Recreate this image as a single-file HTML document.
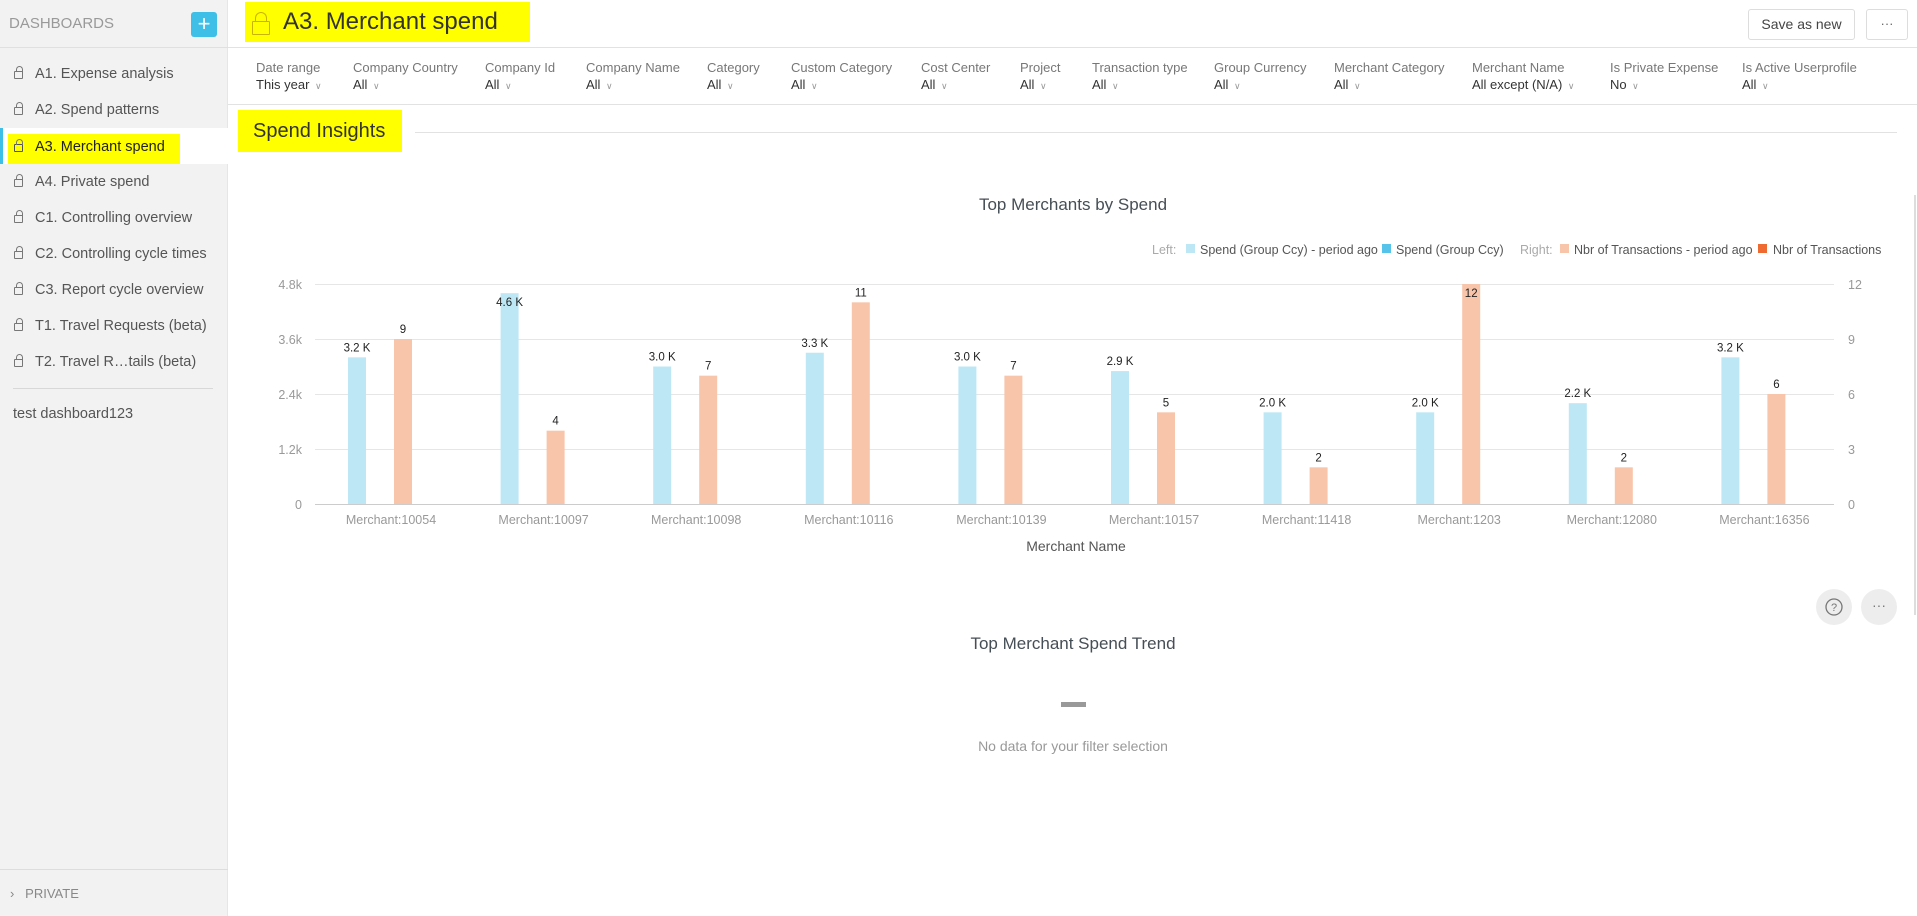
<!DOCTYPE html>
<html><head><meta charset="utf-8"><style>
*{box-sizing:border-box;margin:0;padding:0}
body{width:1917px;height:916px;overflow:hidden;font-family:"Liberation Sans",sans-serif;background:#fff;position:relative;color:#464e56}
.abs{position:absolute;white-space:nowrap}
#side{position:absolute;left:0;top:0;width:228px;height:916px;background:#f2f2f2;border-right:1px solid #e6e6e6}
.item{position:absolute;left:14px;font-size:14.5px;color:#555}
.lock{display:inline-block;width:9px;height:8px;border:1.3px solid #777;border-radius:1px;margin-right:12px;position:relative;vertical-align:-1px}
.lock:before{content:"";position:absolute;left:0.5px;top:-6px;width:5px;height:5px;border:1.3px solid #777;border-bottom:none;border-radius:4px 4px 0 0}
.fl{position:absolute;top:60px;font-size:13px;color:#777}
.fl b{display:block;font-weight:normal;color:#333;font-size:13px;margin-top:2px}
.fl b:after{content:" \2228";font-size:9px;color:#999;margin-left:3px}
</style></head><body>
<div id="side">
 <div class="abs" style="left:9px;top:15px;font-size:15px;color:#999">DASHBOARDS</div>
 <div class="abs" style="left:191px;top:12px;width:26px;height:25px;background:#3dbfe8;border-radius:3px;color:#fff;font-size:22px;line-height:23px;text-align:center">+</div>
 <div class="abs" style="left:0;top:47px;width:228px;height:1px;background:#e0e0e0"></div>
 <div class="item" style="top:66px"><span class="lock"></span>A1. Expense analysis</div>
 <div class="item" style="top:102px"><span class="lock"></span>A2. Spend patterns</div>
 <div class="abs" style="left:0;top:128px;width:228px;height:36px;background:#fff"></div>
 <div class="abs" style="left:0;top:128px;width:3px;height:36px;background:#3dbfe8"></div>
 <div class="abs" style="left:8px;top:134px;width:172px;height:30px;background:#ffff00"></div>
 <div class="item" style="top:139px;color:#222"><span class="lock" style="border-color:#555"></span>A3. Merchant spend</div>
 <div class="item" style="top:174px"><span class="lock"></span>A4. Private spend</div>
 <div class="item" style="top:210px"><span class="lock"></span>C1. Controlling overview</div>
 <div class="item" style="top:246px"><span class="lock"></span>C2. Controlling cycle times</div>
 <div class="item" style="top:282px"><span class="lock"></span>C3. Report cycle overview</div>
 <div class="item" style="top:318px"><span class="lock"></span>T1. Travel Requests (beta)</div>
 <div class="item" style="top:354px"><span class="lock"></span>T2. Travel R…tails (beta)</div>
 <div class="abs" style="left:13px;top:388px;width:200px;height:1px;background:#d8d8d8"></div>
 <div class="item" style="top:406px;left:13px">test dashboard123</div>
 <div class="abs" style="left:0;top:869px;width:228px;height:1px;background:#ddd"></div>
 <div class="abs" style="left:10px;top:886px;font-size:13px;color:#888">›&nbsp;&nbsp; PRIVATE</div>
</div>
<div class="abs" style="left:245px;top:2px;width:285px;height:40px;background:#ffff00"></div>
<div class="abs" style="left:255px;top:12px;width:12px;height:10px;border:1.5px solid #c8b400;border-bottom:none;border-radius:6px 6px 0 0"></div>
<div class="abs" style="left:252px;top:21px;width:18px;height:14px;border:1.5px solid #c8b400;border-radius:1px"></div>
<div class="abs" style="left:283px;top:8px;font-size:24px;color:#333">A3. Merchant spend</div>
<div class="abs" style="left:1748px;top:9px;width:107px;height:31px;border:1px solid #ddd;border-radius:3px;font-size:14px;color:#444;text-align:center;line-height:29px">Save as new</div>
<div class="abs" style="left:1866px;top:9px;width:42px;height:31px;border:1px solid #ddd;border-radius:3px;font-size:13px;color:#666;text-align:center;line-height:27px">···</div>
<div class="abs" style="left:228px;top:47px;width:1689px;height:1px;background:#e2e2e2"></div>
<div class="fl" style="left:256px">Date range<b>This year</b></div>
<div class="fl" style="left:353px">Company Country<b>All</b></div>
<div class="fl" style="left:485px">Company Id<b>All</b></div>
<div class="fl" style="left:586px">Company Name<b>All</b></div>
<div class="fl" style="left:707px">Category<b>All</b></div>
<div class="fl" style="left:791px">Custom Category<b>All</b></div>
<div class="fl" style="left:921px">Cost Center<b>All</b></div>
<div class="fl" style="left:1020px">Project<b>All</b></div>
<div class="fl" style="left:1092px">Transaction type<b>All</b></div>
<div class="fl" style="left:1214px">Group Currency<b>All</b></div>
<div class="fl" style="left:1334px">Merchant Category<b>All</b></div>
<div class="fl" style="left:1472px">Merchant Name<b>All except (N/A)</b></div>
<div class="fl" style="left:1610px">Is Private Expense<b>No</b></div>
<div class="fl" style="left:1742px">Is Active Userprofile<b>All</b></div>
<div class="abs" style="left:228px;top:104px;width:1689px;height:1px;background:#e2e2e2"></div>
<div class="abs" style="left:238px;top:110px;width:164px;height:42px;background:#ffff00"></div>
<div class="abs" style="left:253px;top:120px;font-size:20px;color:#333">Spend Insights</div>
<div class="abs" style="left:415px;top:132px;width:1482px;height:1px;background:#e2e2e2"></div>
<div class="abs" style="left:1914px;top:195px;width:2px;height:420px;background:#ddd"></div>

<svg class="abs" style="left:0;top:0" width="1917" height="916" font-family="Liberation Sans, sans-serif">
<text x="1073" y="210" font-size="17" fill="#464e56" text-anchor="middle">Top Merchants by Spend</text>
<g font-size="12.5" fill="#555">
<text x="1152" y="254" fill="#aaa">Left:</text>
<rect x="1186" y="244" width="9" height="9" fill="#bde7f5"/><text x="1200" y="254">Spend (Group Ccy) - period ago</text>
<rect x="1382" y="244" width="9" height="9" fill="#56c4ea"/><text x="1396" y="254">Spend (Group Ccy)</text>
<text x="1520" y="254" fill="#aaa">Right:</text>
<rect x="1560" y="244" width="9" height="9" fill="#f8c5aa"/><text x="1574" y="254">Nbr of Transactions - period ago</text>
<rect x="1758" y="244" width="9" height="9" fill="#ee6a31"/><text x="1773" y="254">Nbr of Transactions</text>
</g>
<g stroke="#e6e6e6" stroke-width="1">
<line x1="315" x2="1834" y1="284.5" y2="284.5"/><line x1="315" x2="1834" y1="339.5" y2="339.5"/>
<line x1="315" x2="1834" y1="394.5" y2="394.5"/><line x1="315" x2="1834" y1="449.5" y2="449.5"/>
<line x1="315" x2="1834" y1="504.5" y2="504.5" stroke="#ccc"/>
</g>
<g font-size="12.5" fill="#999" text-anchor="end">
<text x="302" y="289">4.8k</text><text x="302" y="344">3.6k</text><text x="302" y="399">2.4k</text><text x="302" y="454">1.2k</text><text x="302" y="509">0</text>
</g>
<g font-size="12.5" fill="#999">
<text x="1848" y="289">12</text><text x="1848" y="344">9</text><text x="1848" y="399">6</text><text x="1848" y="454">3</text><text x="1848" y="509">0</text>
</g>
<g id="bars"></g>
<text x="1076" y="551" font-size="14" fill="#555" text-anchor="middle">Merchant Name</text>
<circle cx="1834" cy="607" r="18" fill="#ededed"/>
<circle cx="1834" cy="607" r="8" fill="none" stroke="#777" stroke-width="1.3"/>
<text x="1834" y="611" font-size="11" fill="#777" text-anchor="middle">?</text>
<circle cx="1879" cy="607" r="18" fill="#ededed"/>
<text x="1879" y="610" font-size="14" fill="#777" text-anchor="middle">···</text>
<text x="1073" y="649" font-size="17" fill="#464e56" text-anchor="middle">Top Merchant Spend Trend</text>
<rect x="1061" y="702" width="25" height="5" fill="#999"/>
<text x="1073" y="751" font-size="14" fill="#999" text-anchor="middle">No data for your filter selection</text>
</svg>
<script>
var b=[3.2,4.6,3.0,3.3,3.0,2.9,2.0,2.0,2.2,3.2],o=[9,4,7,11,7,5,2,12,2,6],
n=["10054","10097","10098","10116","10139","10157","11418","1203","12080","16356"],s="";
for(var i=0;i<10;i++){var c=391+i*152.6,hb=b[i]/4.8*220,ho=o[i]/12*220;
var bx=c-43,ox=c+3;
s+='<rect x="'+bx+'" y="'+(504-hb)+'" width="18" height="'+hb+'" fill="#bde7f5"/>';
s+='<rect x="'+ox+'" y="'+(504-ho)+'" width="18" height="'+ho+'" fill="#f8c5aa"/>';
var ly=i==1?(504-hb+13):(504-hb-6);
s+='<text x="'+(bx+9)+'" y="'+ly+'" font-size="11.5" fill="#222" text-anchor="middle">'+b[i].toFixed(1)+' K</text>';
var oy=i==7?(504-ho+13):(504-ho-6);
s+='<text x="'+(ox+9)+'" y="'+oy+'" font-size="11.5" fill="#222" text-anchor="middle">'+o[i]+'</text>';
s+='<text x="'+c+'" y="524" font-size="12.5" fill="#999" text-anchor="middle">Merchant:'+n[i]+'</text>';}
document.getElementById("bars").innerHTML=s;
</script>
</body></html>
